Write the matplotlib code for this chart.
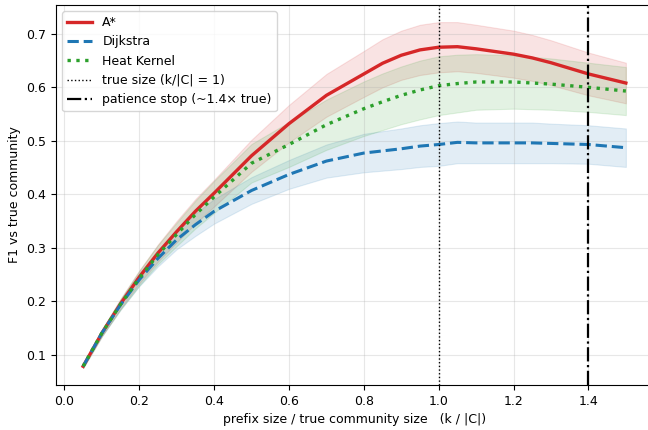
import matplotlib
matplotlib.use("Agg")
import matplotlib.pyplot as plt
import numpy as np

# prefix size / true community size
ratio = [0.05, 0.10, 0.15, 0.20, 0.25, 0.30, 0.35, 0.40, 0.50, 0.60, 0.70,
         0.80, 0.85, 0.90, 0.95, 1.00, 1.05, 1.10, 1.20, 1.25, 1.30, 1.40, 1.50]

astar_mean = [0.078, 0.140, 0.195, 0.245, 0.290, 0.330, 0.368, 0.402, 0.472,
              0.532, 0.585, 0.625, 0.645, 0.660, 0.670, 0.675, 0.676, 0.672,
              0.662, 0.655, 0.646, 0.625, 0.608]
astar_std = [0.003, 0.006, 0.009, 0.012, 0.016, 0.020, 0.023, 0.025, 0.030,
             0.035, 0.040, 0.043, 0.045, 0.046, 0.047, 0.047, 0.046, 0.045,
             0.044, 0.043, 0.042, 0.040, 0.038]

dijkstra_mean = [0.078, 0.140, 0.193, 0.240, 0.280, 0.315, 0.343, 0.368, 0.407,
                 0.437, 0.462, 0.477, 0.481, 0.485, 0.490, 0.493, 0.497, 0.496,
                 0.496, 0.496, 0.495, 0.493, 0.487]
dijkstra_std = [0.003, 0.006, 0.009, 0.012, 0.015, 0.018, 0.021, 0.023, 0.025,
                0.027, 0.031, 0.036, 0.037, 0.038, 0.039, 0.040, 0.039, 0.038,
                0.038, 0.038, 0.037, 0.036, 0.036]

heat_mean = [0.078, 0.140, 0.194, 0.243, 0.287, 0.325, 0.362, 0.395, 0.458,
             0.493, 0.530, 0.560, 0.573, 0.585, 0.595, 0.603, 0.607, 0.610,
             0.610, 0.608, 0.606, 0.600, 0.593]
heat_std = [0.003, 0.006, 0.010, 0.014, 0.018, 0.022, 0.026, 0.030, 0.036,
            0.042, 0.047, 0.051, 0.053, 0.054, 0.055, 0.055, 0.054, 0.052,
            0.050, 0.049, 0.048, 0.046, 0.045]

TRUE_SIZE = 1.0
PATIENCE_STOP = 1.4

plt.rcParams.update({"font.size": 9})

fig = plt.figure(figsize=(6.48, 4.30), dpi=100)
# axes runs slightly past the right edge of the canvas, as in the reference
ax = fig.add_axes([56 / 648, 1 - 385 / 430, 597 / 648, 380 / 430])

x = np.array(ratio)
series = [
    ("A*", astar_mean, astar_std, "#d62728", "-", 2.4),
    ("Dijkstra", dijkstra_mean, dijkstra_std, "#1f77b4", "--", 2.2),
    ("Heat Kernel", heat_mean, heat_std, "#2ca02c", ":", 2.4),
]
for label, mean, std, color, ls, lw in series:
    m = np.array(mean)
    s = np.array(std)
    ax.plot(x, m, ls, color=color, lw=lw, label=label)
    ax.fill_between(x, m - s, m + s, color=color, alpha=0.13, linewidth=0.8)

ax.axvline(TRUE_SIZE, color="black", linestyle=":", linewidth=1.0,
           label="true size (k/|C| = 1)")
ax.axvline(PATIENCE_STOP, color="black", linestyle="-.", linewidth=1.6,
           label="patience stop (~1.4\u00d7 true)")

ax.set_xlabel("prefix size / true community size   (k / |C|)")
ax.set_ylabel("F1 vs true community")
ax.set_xlim(-0.0225, 1.5725)
ax.set_ylim(0.043, 0.754)
ax.grid(alpha=0.3)
ax.legend(loc="upper left")

fig.savefig("out.png", dpi=100)
